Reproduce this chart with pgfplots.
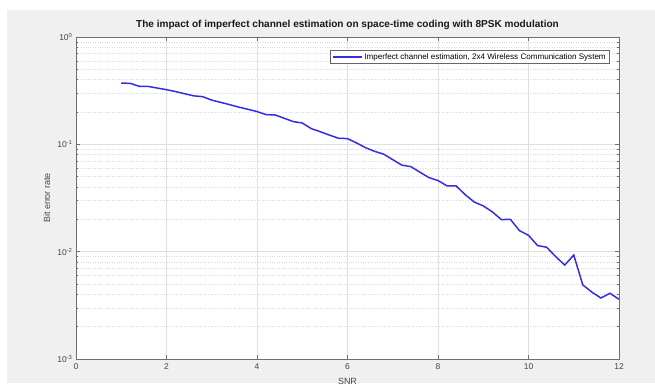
\documentclass[border=0pt]{standalone}
\usepackage{fontspec}
\setmainfont{Liberation Sans}
\usepackage{pgfplots}
\pgfplotsset{compat=1.18}
\definecolor{figgray}{RGB}{240,240,240}
\definecolor{linec}{RGB}{55,45,225}
\definecolor{axc}{RGB}{110,110,110}
\definecolor{tickc}{RGB}{70,70,70}
\pgfplotstableread{
x y
1.0 0.372
1.2 0.370
1.4 0.347
1.6 0.346
1.8 0.334
2.0 0.323
2.2 0.310
2.4 0.296
2.6 0.283
2.8 0.278
3.0 0.258
3.2 0.246
3.4 0.234
3.6 0.222
3.8 0.212
4.0 0.202
4.2 0.189
4.4 0.188
4.6 0.175
4.8 0.163
5.0 0.158
5.2 0.140
5.4 0.131
5.6 0.122
5.8 0.114
6.0 0.113
6.2 0.103
6.4 0.093
6.6 0.086
6.8 0.081
7.0 0.072
7.2 0.064
7.4 0.062
7.6 0.055
7.8 0.049
8.0 0.046
8.2 0.041
8.4 0.041
8.6 0.034
8.8 0.029
9.0 0.0267
9.2 0.0235
9.4 0.0199
9.6 0.0200
9.8 0.0157
10.0 0.0142
10.2 0.0114
10.4 0.0110
10.6 0.0090
10.8 0.0075
11.0 0.0093
11.2 0.0049
11.4 0.0042
11.6 0.0037
11.8 0.0041
12.0 0.0036
}\bertable
\begin{document}
\begin{tikzpicture}
\fill[white] (0,0) rectangle (655bp,385bp);
\fill[figgray] (7bp,2bp) rectangle (655bp,375bp);
\begin{axis}[
  at={(76bp,26bp)}, anchor=south west,
  scale only axis, width=543bp, height=322bp,
  axis background/.style={fill=white},
  ymode=log, xmin=0, xmax=12, ymin=1e-3, ymax=1,
  xtick={0,2,4,6,8,10,12},
  ytick={1e-3,1e-2,1e-1,1},
  yticklabels={10\textsuperscript{-3},10\textsuperscript{-2},10\textsuperscript{-1},10\textsuperscript{0}},
  minor x tick num=0,
  /pgf/number format/assume math mode=true,
  tick align=inside,
  major tick length=4bp, minor tick length=2.5bp,
  axis line style={axc, line width=0.6bp},
  every tick/.style={axc, line width=0.5bp},
  grid=both,
  major grid style={black!12, line width=0.5bp},
  minor grid style={black!15, dotted, line width=0.5bp},
  ticklabel style={font=\fontsize{8.5}{9}\selectfont, text=tickc},
  xticklabel style={yshift=-1bp},
  title={The impact of imperfect channel estimation on space-time coding with 8PSK modulation},
  title style={at={(axis description cs:0.5,1)}, anchor=south, inner sep=0pt, yshift=1.5bp, font=\bfseries\fontsize{10.1}{11}\selectfont, text=black!90},
  xlabel={SNR},
  xlabel style={at={(axis description cs:0.5,-0.069)}, anchor=center, font=\fontsize{9}{10}\selectfont, text=tickc},
  ylabel={Bit error rate},
  ylabel style={at={(axis description cs:-0.0534,0.5)}, anchor=center, rotate=0, font=\fontsize{9}{10}\selectfont, text=tickc},
  legend style={at={(axis description cs:0.9834,0.9596)}, anchor=north east, draw=black!60, line width=0.5bp, fill=white, font=\fontsize{8.1}{9}\selectfont, inner xsep=2bp, inner ysep=1bp},
  legend cell align=left,
  legend image code/.code={\draw[#1] (0bp,0bp) -- (29bp,0bp);},
]
\addplot[linec, line width=1.5bp] table[x=x,y=y] {\bertable};
\addlegendentry{Imperfect channel estimation, 2x4 Wireless Communication System}
\end{axis}
\pgfresetboundingbox
\useasboundingbox (0,0) rectangle (655bp,385bp);
\end{tikzpicture}
\end{document}
